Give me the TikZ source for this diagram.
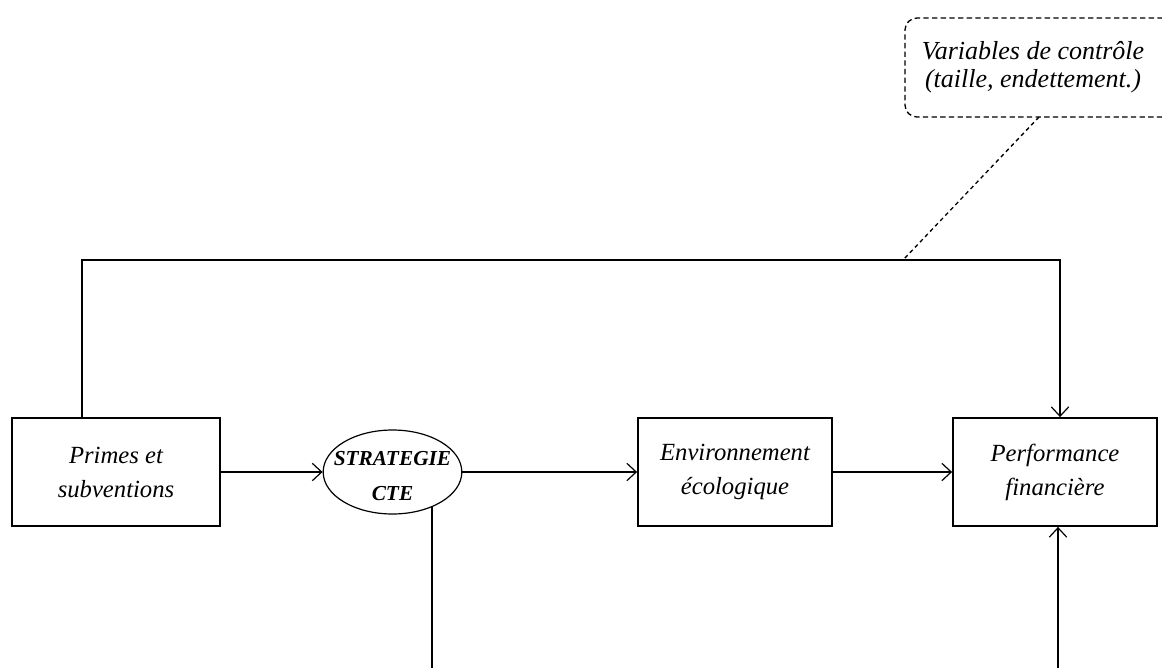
\documentclass[tikz,border=0pt]{standalone}
\usepackage{fontspec}
\setmainfont{Liberation Serif}
\usetikzlibrary{shapes.geometric,arrows.meta}
\begin{document}
\begin{tikzpicture}[x=0.75pt,y=-0.75pt,
  line width=1.35pt,
  tip/.style={-{Straight Barb[length=7pt,width=13pt,line width=0.9pt]}},
  boxnode/.style={draw,rectangle,minimum height=81pt,align=center,inner sep=0pt,
    font=\fontsize{18.5}{25.5}\selectfont\itshape},
  ellnode/.style={draw,ellipse,minimum width=104pt,minimum height=63pt,inner sep=0pt,
    line width=0.9pt},
  elltext/.style={align=center,inner sep=0pt,font=\fontsize{16}{26}\selectfont\bfseries\itshape},
  ctrltext/.style={align=center,inner sep=0pt,font=\fontsize{19.5}{21}\selectfont\itshape},
  dashline/.style={dashed,dash pattern=on 4pt off 2.5pt,line width=1pt}]
\useasboundingbox (0,0) rectangle (1162,667);
\fill[white] (0,0) rectangle (1162,667);

\node[boxnode,minimum width=156pt] (prim) at (116,472) {Primes et\\subventions};
\node[ellnode] (strat) at (392.5,472) {};
\node[elltext] (strattxt) at (392.5,476) {STRATEGIE\\CTE};
\node[boxnode,minimum width=145.5pt] (env) at (735,472) {Environnement\\écologique};
\node[boxnode,minimum width=153pt] (perf) at (1055,472) {Performance\\financière};

\node[ctrltext] (ctrl) at (1033,67) {Variables de contrôle\\(taille, endettement.)};
\coordinate (cbl) at (905,117);
\coordinate (ctl) at (905,18);
\coordinate (ctr) at (1180,18);
\coordinate (cbr) at (1180,117);
\draw[dashline,rounded corners=9pt] (ctr) -- (ctl) -- (cbl) -- (cbr);

\coordinate (tl) at (82,260);
\coordinate (tr) at (1060,260);
\coordinate (d1) at (1039,117);
\coordinate (d2) at (903,260);
\coordinate (b1) at (431,672);
\coordinate (b2) at (1058,672);

\draw[tip] (prim.north -| tl) -- (tl) -- (tr) -- (perf.north -| tr);
\draw[dashline,dash pattern=on 3pt off 2.5pt] (d1) -- (d2);
\draw[tip] (prim) -- (strat);
\draw[tip] (strat) -- (env);
\draw[tip] (env) -- (perf);
\draw (strat.-42) -- (strat.-42 |- b1);
\draw[tip] (b2) -- (b2 |- perf.south);
\end{tikzpicture}
\end{document}
